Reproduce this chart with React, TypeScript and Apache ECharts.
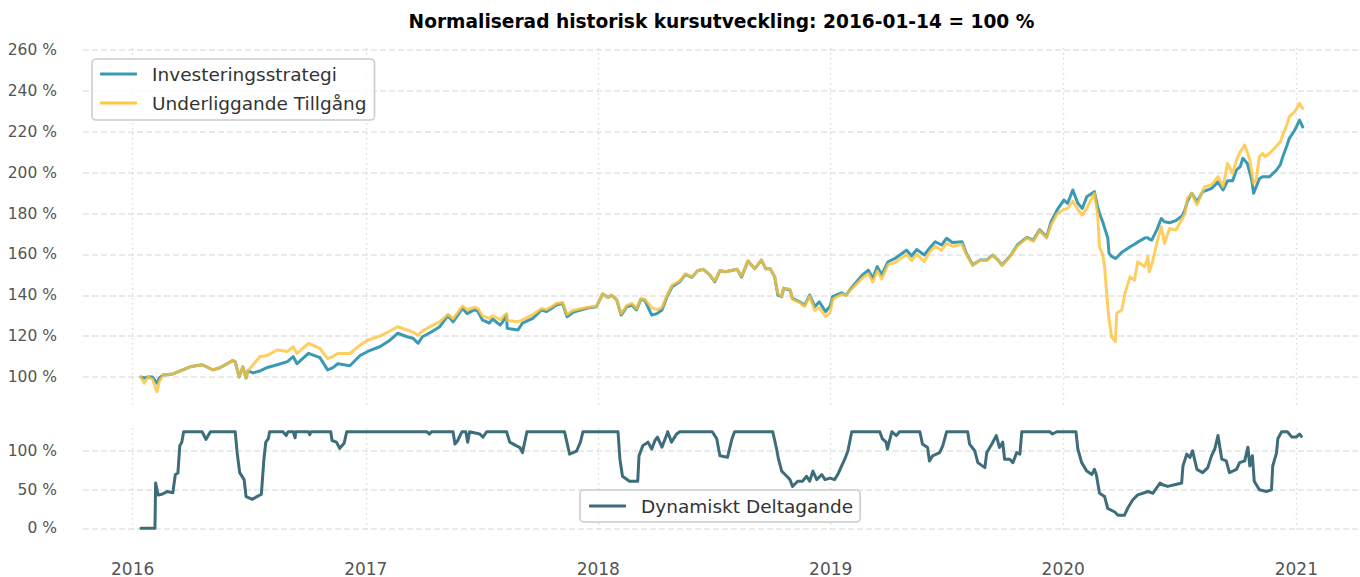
import React, { useEffect, useRef } from "react";
import * as echarts from "echarts";

const chartTitle = "Normaliserad historisk kursutveckling: 2016-01-14 = 100 %";
const strategyName = "Investeringsstrategi";
const underlyingName = "Underliggande Tillgång";
const participationName = "Dynamiskt Deltagande";

const xRangeStart = "2015-10-15";
const xRangeEnd = "2021-04-11";

const priceDates = [
  "2016-01-14", "2016-01-19", "2016-01-25", "2016-02-01", "2016-02-08", "2016-02-12", "2016-02-18", "2016-03-04",
  "2016-03-16", "2016-03-31", "2016-04-19", "2016-05-06", "2016-05-17", "2016-06-06", "2016-06-10", "2016-06-16",
  "2016-06-22", "2016-06-27", "2016-06-30", "2016-07-08", "2016-07-19", "2016-07-29", "2016-08-15", "2016-08-31",
  "2016-09-09", "2016-09-15", "2016-10-03", "2016-10-21", "2016-11-02", "2016-11-10", "2016-11-18", "2016-12-07",
  "2016-12-23", "2017-01-04", "2017-01-23", "2017-02-08", "2017-02-20", "2017-03-07", "2017-03-16", "2017-03-24",
  "2017-03-31", "2017-04-14", "2017-04-27", "2017-05-10", "2017-05-18", "2017-06-02", "2017-06-09", "2017-06-21",
  "2017-06-26", "2017-07-03", "2017-07-14", "2017-07-19", "2017-07-31", "2017-08-04", "2017-08-10", "2017-08-11",
  "2017-08-28", "2017-09-04", "2017-09-20", "2017-10-04", "2017-10-12", "2017-10-20", "2017-10-27", "2017-11-06",
  "2017-11-13", "2017-11-22", "2017-12-14", "2017-12-29", "2018-01-08", "2018-01-16", "2018-01-22", "2018-01-30",
  "2018-02-06", "2018-02-15", "2018-02-23", "2018-03-02", "2018-03-09", "2018-03-15", "2018-03-26", "2018-04-03",
  "2018-04-11", "2018-04-19", "2018-04-27", "2018-05-09", "2018-05-18", "2018-05-28", "2018-06-06", "2018-06-15",
  "2018-06-25", "2018-07-03", "2018-07-11", "2018-07-20", "2018-08-07", "2018-08-14", "2018-08-24", "2018-09-04",
  "2018-09-14", "2018-09-21", "2018-09-28", "2018-10-05", "2018-10-10", "2018-10-16", "2018-10-19", "2018-10-29",
  "2018-11-02", "2018-11-13", "2018-11-21", "2018-11-29", "2018-12-07", "2018-12-14", "2018-12-24", "2018-12-31",
  "2019-01-04", "2019-01-18", "2019-01-25", "2019-02-04", "2019-02-20", "2019-03-01", "2019-03-08", "2019-03-15",
  "2019-03-22", "2019-04-01", "2019-04-12", "2019-04-30", "2019-05-08", "2019-05-16", "2019-05-28", "2019-06-05",
  "2019-06-14", "2019-06-24", "2019-07-02", "2019-07-11", "2019-07-26", "2019-08-02", "2019-08-12", "2019-08-23",
  "2019-09-03", "2019-09-12", "2019-09-20", "2019-09-27", "2019-10-11", "2019-10-21", "2019-11-05", "2019-11-15",
  "2019-11-25", "2019-12-06", "2019-12-13", "2019-12-23", "2020-01-02", "2020-01-08", "2020-01-16", "2020-01-24",
  "2020-01-31", "2020-02-07", "2020-02-19", "2020-02-24", "2020-02-27", "2020-03-03", "2020-03-06", "2020-03-11",
  "2020-03-13", "2020-03-17", "2020-03-23", "2020-03-25", "2020-04-02", "2020-04-07", "2020-04-15", "2020-04-22",
  "2020-04-27", "2020-05-08", "2020-05-13", "2020-05-15", "2020-05-19", "2020-05-27", "2020-06-03", "2020-06-08",
  "2020-06-16", "2020-06-26", "2020-07-06", "2020-07-10", "2020-07-14", "2020-07-21", "2020-07-29", "2020-08-07",
  "2020-08-10", "2020-08-21", "2020-08-31", "2020-09-08", "2020-09-15", "2020-09-23", "2020-09-29", "2020-10-05",
  "2020-10-09", "2020-10-12", "2020-10-16", "2020-10-20", "2020-10-23", "2020-10-26", "2020-10-30", "2020-11-04",
  "2020-11-09", "2020-11-13", "2020-11-20", "2020-11-25", "2020-12-01", "2020-12-07", "2020-12-10", "2020-12-17",
  "2020-12-21", "2020-12-29", "2020-12-31", "2021-01-06", "2021-01-11",
];

const strategyValues = [
  100, 99.5, 100, 100, 97, 99.5, 101, 101.5,
  103, 105, 106, 103.5, 104.5, 108, 107.5, 100,
  105, 99.5, 103, 102, 103, 104.5, 106, 107.5,
  110, 106.5, 111.6, 109.5, 103.5, 104.5, 106.5, 105.5,
  110.5, 112.5, 114.8, 118, 121.4, 119.7, 119, 116.5,
  119.7, 122, 124.6, 130, 127, 133.6, 131, 133,
  132, 128, 126.4, 128.4, 125.4, 127, 130.3, 123.8,
  123, 126.4, 128.7, 132.8, 132, 133.6, 135.2, 136,
  129.5, 131.6, 133.6, 134.4, 140.6, 139, 140, 137.7,
  130.3, 134.4, 135.2, 132.8, 138, 137.6, 130.3, 131,
  132.8, 139.3, 144.2, 146.6, 150.2, 148.8, 152, 152.7,
  150, 146.6, 152, 151.5, 152.7, 149, 156.7, 153,
  157.2, 153, 153, 149, 140.1, 139.3, 143.4, 142.6,
  138.5, 136.8, 135.2, 140.1, 134.4, 136.8, 132, 134.7,
  139.3, 141.2, 140, 144.2, 150, 152.3, 148.3, 154,
  150, 156.4, 158, 162.1, 159.2, 162.4, 159.7, 163,
  166.2, 164.6, 167.9, 165.8, 166.2, 160.5, 154.8, 157.2,
  157.2, 159.7, 157.5, 154.8, 159.7, 164.6, 168.3, 167,
  172, 168.6, 176, 182, 186.6, 185, 191.5, 185,
  182.5, 188.2, 190.7, 183.3, 180, 176, 173, 168,
  160.5, 159, 158, 158.5, 161, 162, 163.7, 165,
  166, 168, 168.2, 167.5, 167, 172, 177.6, 176,
  175.5, 176.5, 179, 181.7, 186, 189.9, 185.8, 190.7,
  191, 192.3, 195.5, 191.5, 196, 196, 201.3, 203,
  207, 206, 204.5, 200, 196.4, 189.9, 193, 197,
  198, 198, 198, 199.5, 201.3, 204, 207, 213,
  216.8, 220.5, 221.7, 225.7, 222.4,
];

const underlyingValues = [
  100, 97, 100, 99, 92.8, 98, 101, 101.5,
  103, 105, 106, 103.5, 104.5, 108, 107.5, 100,
  105, 99.5, 103, 106, 110, 110.5, 113.2, 112.5,
  114.8, 111.5, 116.5, 114, 109, 110, 111.5, 111.5,
  115.6, 118, 120, 122.5, 124.6, 123, 122, 120.5,
  122.5, 125, 127, 130.6, 128.5, 134.7, 133, 134,
  133.6, 130, 128.7, 130, 128, 129.4, 131, 127.7,
  127, 128, 130.5, 133.5, 133, 134.5, 136, 136.5,
  130.6, 132.5, 134, 134.6, 140.6, 139, 140, 137.7,
  131, 135, 136, 133.5, 138.5, 138, 134, 133,
  134, 140, 145, 147, 150.5, 149, 152, 152.7,
  150, 147, 152, 151.5, 152.7, 149.5, 156.7, 153,
  157.2, 153, 153, 149, 141, 139.5, 143.5, 143,
  138, 136.5, 134.5, 139.5, 132.5, 134, 129.5, 131.5,
  138, 140.5, 140, 143.5, 148.5, 150.5, 146.5, 152,
  148, 155, 156, 160, 157, 160, 156.5, 161,
  164, 162, 165.5, 164, 165, 160, 154.5, 157,
  157, 159.5, 157.5, 154.5, 159.5, 164, 168, 166.5,
  171.5, 168, 174.5, 180, 182, 182.5, 186, 182,
  179.3, 182.5, 189.9, 180, 163.7, 160, 154, 134.4,
  128, 119.7, 117.3, 131.2, 132.8, 141, 149, 147.4,
  156.4, 154, 158.8, 151.5, 155, 165.4, 173.5, 165.4,
  172.7, 171.9, 177.6, 180, 187.4, 189.9, 184.2, 191,
  193.1, 194, 198, 193.1, 204.5, 199.6, 206, 210.2,
  212, 213.5, 210, 206.2, 200, 194.7, 196.4, 207.8,
  209.4, 207.8, 209.5, 211, 213, 215.1, 218, 223.3,
  227.3, 229.8, 230.5, 233.9, 231.4,
];

const participationDates = [
  "2016-01-14", "2016-02-05", "2016-02-06", "2016-02-10", "2016-02-16", "2016-02-24", "2016-03-04", "2016-03-08",
  "2016-03-12", "2016-03-15", "2016-03-18", "2016-03-21", "2016-04-19", "2016-04-25", "2016-05-02", "2016-06-10",
  "2016-06-13", "2016-06-17", "2016-06-24", "2016-06-27", "2016-07-07", "2016-07-14", "2016-07-21", "2016-07-25",
  "2016-07-28", "2016-08-01", "2016-08-03", "2016-08-24", "2016-08-29", "2016-09-01", "2016-09-09", "2016-09-12",
  "2016-09-13", "2016-10-03", "2016-10-05", "2016-10-07", "2016-11-07", "2016-11-09", "2016-11-16", "2016-11-21",
  "2016-11-28", "2016-12-02", "2017-04-07", "2017-04-11", "2017-04-14", "2017-05-18", "2017-05-21", "2017-05-25",
  "2017-06-01", "2017-06-07", "2017-06-10", "2017-06-13", "2017-06-29", "2017-07-04", "2017-07-10", "2017-08-10",
  "2017-08-15", "2017-08-25", "2017-08-31", "2017-09-04", "2017-09-11", "2017-11-09", "2017-11-14", "2017-11-17",
  "2017-11-28", "2017-12-04", "2017-12-08", "2018-02-01", "2018-02-04", "2018-02-08", "2018-02-19", "2018-03-04",
  "2018-03-06", "2018-03-12", "2018-03-20", "2018-03-26", "2018-03-31", "2018-04-04", "2018-04-11", "2018-04-19",
  "2018-04-20", "2018-04-26", "2018-05-04", "2018-05-09", "2018-06-29", "2018-07-06", "2018-07-11", "2018-07-23",
  "2018-07-30", "2018-08-03", "2018-10-02", "2018-10-08", "2018-10-11", "2018-10-16", "2018-10-24", "2018-10-29",
  "2018-11-02", "2018-11-10", "2018-11-18", "2018-11-24", "2018-11-29", "2018-12-04", "2018-12-10", "2018-12-18",
  "2018-12-23", "2018-12-31", "2019-01-07", "2019-01-12", "2019-01-18", "2019-01-23", "2019-01-28", "2019-02-03",
  "2019-03-19", "2019-03-23", "2019-03-29", "2019-03-31", "2019-04-07", "2019-04-14", "2019-04-19", "2019-05-21",
  "2019-05-25", "2019-06-02", "2019-06-05", "2019-06-10", "2019-06-21", "2019-06-26", "2019-07-02", "2019-08-04",
  "2019-08-07", "2019-08-15", "2019-08-20", "2019-08-31", "2019-09-03", "2019-09-11", "2019-09-18", "2019-09-23",
  "2019-09-28", "2019-10-01", "2019-10-09", "2019-10-14", "2019-10-20", "2019-10-25", "2019-10-28", "2019-12-11",
  "2019-12-15", "2019-12-22", "2020-01-21", "2020-01-24", "2020-01-30", "2020-02-07", "2020-02-15", "2020-02-19",
  "2020-02-22", "2020-02-27", "2020-03-06", "2020-03-11", "2020-03-22", "2020-03-27", "2020-04-06", "2020-04-11",
  "2020-04-19", "2020-04-27", "2020-05-05", "2020-05-13", "2020-05-21", "2020-06-01", "2020-06-05", "2020-06-13",
  "2020-06-24", "2020-07-05", "2020-07-07", "2020-07-13", "2020-07-18", "2020-07-22", "2020-07-29", "2020-08-07",
  "2020-08-15", "2020-08-21", "2020-08-26", "2020-08-31", "2020-09-06", "2020-09-13", "2020-09-18", "2020-09-29",
  "2020-10-04", "2020-10-12", "2020-10-17", "2020-10-20", "2020-10-24", "2020-10-27", "2020-11-04", "2020-11-15",
  "2020-11-23", "2020-11-25", "2020-12-01", "2020-12-03", "2020-12-09", "2020-12-18", "2020-12-25", "2021-01-01",
  "2021-01-06", "2021-01-09",
];

const participationValues = [
  0, 0, 58.6, 43, 44, 47.5, 46, 69.6,
  71.5, 107, 111, 125, 125, 115, 125, 125,
  98, 72, 63, 41, 37.5, 41, 44, 89,
  111.5, 116, 125, 125, 120, 125, 125, 117,
  125, 125, 121, 125, 125, 113.6, 111.5, 103.5,
  110, 125, 125, 122, 125, 125, 109, 113,
  125, 125, 111.5, 125, 122, 118, 125, 125,
  111.5, 107, 104.5, 98, 125, 125, 107, 96,
  100, 111.5, 125, 125, 89.4, 67.4, 60.8, 60.8,
  93.8, 107, 111.5, 102.6, 113.6, 118, 105, 122,
  125, 111.5, 122, 125, 125, 116, 94, 92,
  116, 125, 125, 102.6, 89.4, 74, 67.4, 63,
  54, 61, 61, 67.4, 61, 74, 63, 69.6,
  63, 65, 63, 69.6, 80.6, 89.4, 100.4, 125,
  125, 116, 111.5, 102.6, 125, 120, 125, 125,
  109, 104.5, 87.2, 93.8, 98, 107, 125, 125,
  109, 100.4, 85, 78.5, 98, 109, 120, 104.5,
  111.5, 89.4, 89.4, 85, 98, 96, 125, 125,
  122, 125, 125, 102.6, 85, 74, 69.6, 76.3,
  69.6, 45.4, 41, 25.6, 21.1, 16.8, 16.8, 25.6,
  36.6, 43.2, 45.4, 47.6, 45.4, 58.6, 56.4, 54.2,
  56.4, 58.6, 80.6, 96, 91.7, 100.4, 76.3, 72,
  78.5, 94, 102.6, 120, 89.4, 87.2, 72, 76.3,
  85, 87.2, 105, 80.6, 94, 60.8, 49.8, 47.6,
  49.8, 80.6, 98, 116, 125, 125, 118, 118,
  122, 119,
];

const FONT = "DejaVu Sans";

function toTime(s: string): number {
  const [y, m, d] = s.split("-").map(Number);
  return new Date(y, m - 1, d).getTime();
}

function pairs(dates: string[], values: number[]) {
  return dates.map((d, i) => [toTime(d), values[i]]);
}

function yearLabel(value: number) {
  const d = new Date(value);
  return d.getMonth() === 0 && d.getDate() === 1 ? String(d.getFullYear()) : "";
}

function pctLabel(step: number) {
  return (v: number) => {
    const r = Math.round(v);
    if (Math.abs(v - r) > 1e-6 || r % step !== 0) return "";
    return r + " %";
  };
}

export default function App() {
  const ref = useRef<HTMLDivElement>(null);

  useEffect(() => {
    if (!ref.current) return;
    const chart = echarts.init(ref.current, null, { renderer: "svg" });
    const hGrid = { show: true, showMinLine: false, showMaxLine: false, lineStyle: { color: "#e4e4e4", width: 1.6, type: [6, 3] } };
    const vGrid = { show: true, showMinLine: false, showMaxLine: false, lineStyle: { color: "#dcdcdc", width: 1.4, type: [1.5, 3.5] } };
    const xBase = {
      type: "time",
      min: toTime(xRangeStart),
      max: toTime(xRangeEnd),
      minInterval: 365 * 24 * 3600 * 1000,
      splitNumber: 5,
      axisLine: { show: false },
      axisTick: { show: false },
      splitLine: vGrid,
    };
    const yLabel = { color: "#555", fontSize: 15.5, fontFamily: FONT, margin: 26 };
    chart.setOption({
      animation: false,
      backgroundColor: "#fff",
      textStyle: { fontFamily: FONT },
      title: {
        text: chartTitle,
        left: 721.5,
        top: 12,
        padding: 0,
        textAlign: "center",
        textStyle: { fontFamily: FONT, fontSize: 18.6, fontWeight: "bold", color: "#000" },
      },
      grid: [
        { left: 83, right: 0, top: 48, height: 357 },
        { left: 83, right: 0, top: 428, height: 105 },
      ],
      xAxis: [
        { ...xBase, gridIndex: 0, axisLabel: { show: false } },
        {
          ...xBase,
          gridIndex: 1,
          axisLabel: { show: true, formatter: yearLabel, color: "#555", fontSize: 17, fontFamily: FONT, margin: 27, showMinLabel: false, showMaxLabel: false },
        },
      ],
      yAxis: [
        {
          type: "value", gridIndex: 0, min: 86.3, max: 261, splitNumber: 8,
          axisLine: { show: false }, axisTick: { show: false },
          axisLabel: { ...yLabel, formatter: pctLabel(20) },
          splitLine: hGrid,
        },
        {
          type: "value", gridIndex: 1, min: -6.1, max: 129.8, splitNumber: 3,
          axisLine: { show: false }, axisTick: { show: false },
          axisLabel: { ...yLabel, formatter: pctLabel(50) },
          splitLine: hGrid,
        },
      ],
      legend: [
        {
          data: [strategyName, underlyingName],
          orient: "vertical",
          left: 92,
          top: 59,
          padding: [5, 8, 7, 8],
          itemGap: 9,
          itemWidth: 37,
          itemHeight: 3,
          icon: "roundRect",
          borderColor: "#cccccc",
          borderWidth: 1.6,
          borderRadius: 4,
          backgroundColor: "rgba(255,255,255,0.8)",
          textStyle: { fontFamily: FONT, fontSize: 18.5, lineHeight: 20, color: "#333", padding: [0, 0, 0, 10] },
        },
        {
          data: [participationName],
          left: 580,
          top: 490,
          padding: [6, 7, 6, 9],
          itemWidth: 37,
          itemHeight: 3,
          icon: "roundRect",
          borderColor: "#cccccc",
          borderWidth: 1.6,
          borderRadius: 4,
          backgroundColor: "rgba(255,255,255,0.8)",
          textStyle: { fontFamily: FONT, fontSize: 18.5, lineHeight: 20, color: "#333", padding: [0, 0, 0, 10] },
        },
      ],
      series: [
        {
          name: strategyName,
          type: "line",
          xAxisIndex: 0,
          yAxisIndex: 0,
          data: pairs(priceDates, strategyValues),
          showSymbol: false,
          color: "#3a9ab3",
          lineStyle: { width: 3, color: "#3a9ab3", cap: "round", join: "round" },
        },
        {
          name: underlyingName,
          type: "line",
          xAxisIndex: 0,
          yAxisIndex: 0,
          data: pairs(priceDates, underlyingValues),
          showSymbol: false,
          color: "#fec844",
          lineStyle: { width: 3, color: "#fec23a", opacity: 0.8, cap: "round", join: "round" },
        },
        {
          name: participationName,
          type: "line",
          xAxisIndex: 1,
          yAxisIndex: 1,
          data: pairs(participationDates, participationValues),
          showSymbol: false,
          color: "#3d6d7b",
          lineStyle: { width: 3, color: "#3d6d7b", cap: "round", join: "round" },
        },
      ],
    });
    return () => chart.dispose();
  }, []);

  return (
    <div
      ref={ref}
      style={{ position: "absolute", left: 0, top: 0, width: 1360, height: 577, background: "#fff" }}
    />
  );
}
